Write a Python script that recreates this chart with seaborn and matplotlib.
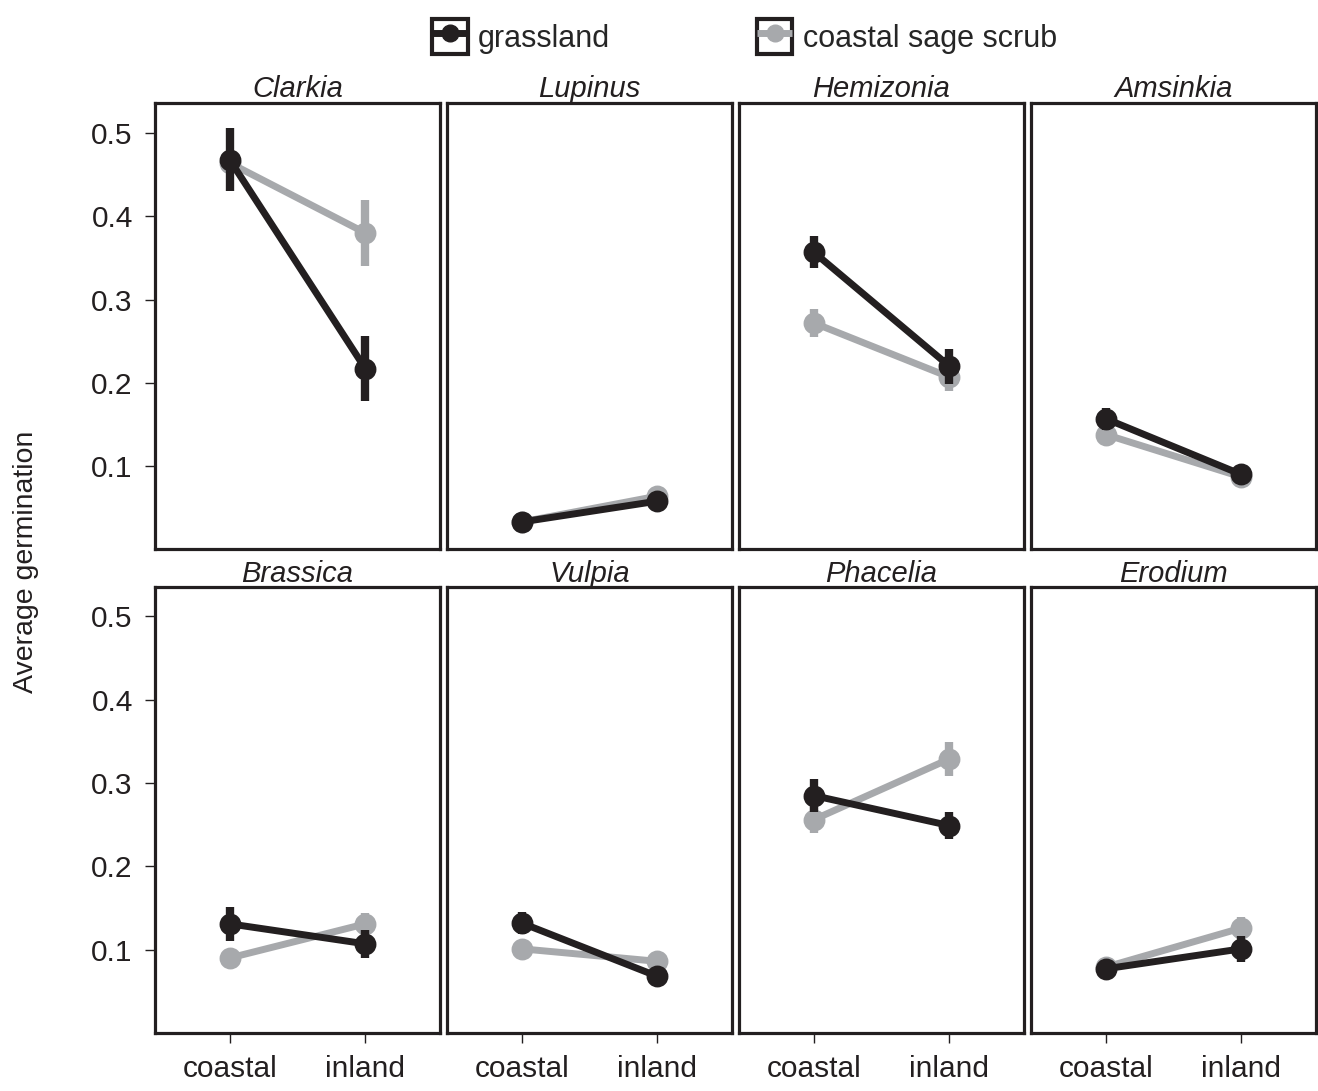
import numpy as np
import pandas as pd
import matplotlib.pyplot as plt
import seaborn as sns
from matplotlib.lines import Line2D
from matplotlib.patches import Rectangle
from matplotlib.legend_handler import HandlerTuple

# -------------------------------------------
# data (mean germination and +/- error)
# -------------------------------------------
species = ["Clarkia", "Lupinus", "Hemizonia", "Amsinkia",
           "Brassica", "Vulpia", "Phacelia", "Erodium"]
sites = ["coastal", "inland"]
habitats = ["grassland", "coastal sage scrub"]

grass_coastal = [0.468, 0.033, 0.357, 0.157, 0.131, 0.132, 0.285, 0.077]
grass_inland = [0.217, 0.058, 0.220, 0.090, 0.107, 0.068, 0.249, 0.101]
grass_coastal_err = [0.038, 0.003, 0.019, 0.013, 0.020, 0.013, 0.020, 0.009]
grass_inland_err = [0.039, 0.004, 0.021, 0.006, 0.017, 0.006, 0.016, 0.016]

css_coastal = [0.464, 0.033, 0.272, 0.138, 0.090, 0.101, 0.256, 0.079]
css_inland = [0.380, 0.064, 0.207, 0.087, 0.131, 0.086, 0.329, 0.126]
css_coastal_err = [0.010, 0.003, 0.017, 0.006, 0.006, 0.006, 0.016, 0.006]
css_inland_err = [0.040, 0.004, 0.017, 0.005, 0.013, 0.006, 0.020, 0.013]

colors = {"grassland": "#231f20", "coastal sage scrub": "#a7a9ac"}
dark = "#231f20"

# long table: three rows per point (low, mean, high) so seaborn can draw the range
rows = []
series = {
    "grassland": (grass_coastal, grass_inland, grass_coastal_err, grass_inland_err),
    "coastal sage scrub": (css_coastal, css_inland, css_coastal_err, css_inland_err),
}
for hab, (mc, mi, ec, ei) in series.items():
    for i, sp in enumerate(species):
        for site, m, e in (("coastal", mc[i], ec[i]), ("inland", mi[i], ei[i])):
            for v in (m - e, m, m + e):
                rows.append({"species": sp, "site": site, "habitat": hab, "germ": v})
df = pd.DataFrame(rows)

# -------------------------------------------
# plot
# -------------------------------------------
sns.set_style("white")
plt.rcParams["font.family"] = ["Liberation Sans", "DejaVu Sans"]

fig, axes = plt.subplots(2, 4, figsize=(13.18, 10.91), dpi=100, sharey=True)
fig.subplots_adjust(left=0.1176, right=0.9985, top=0.9056, bottom=0.0532,
                    wspace=0.0245, hspace=0.083)

for ax, sp in zip(axes.flat, species):
    sub = df[df["species"] == sp]
    # grey first so the black series sits on top
    for hab in ["coastal sage scrub", "grassland"]:
        sns.pointplot(data=sub[sub["habitat"] == hab], x="site", y="germ",
                      order=sites, color=colors[hab],
                      errorbar=lambda v: (v.min(), v.max()),
                      markersize=12, linewidth=5,
                      err_kws={"linewidth": 6, "solid_capstyle": "butt"}, ax=ax)
    ax.set_title(sp, fontsize=21, fontstyle="italic", pad=3, color=dark)
    ax.set_xlim(-0.55, 1.55)
    ax.set_ylim(0, 0.536)
    ax.set_xlabel("")
    ax.set_ylabel("")
    for s in ax.spines.values():
        s.set_visible(True)
        s.set_linewidth(2.3)
        s.set_color(dark)

for ax in axes.flat:
    ax.set_yticks([0.1, 0.2, 0.3, 0.4, 0.5])
    ax.tick_params(axis="both", direction="out", length=7, width=1,
                   color=dark, labelsize=21.5, labelcolor=dark)
    ax.tick_params(axis="x", pad=9)
    ax.tick_params(axis="y", pad=9)

for ax in axes[0]:
    ax.tick_params(axis="x", bottom=False, labelbottom=False)
for ax in axes[:, 1:].flat:
    ax.tick_params(axis="y", left=False, labelleft=False)
for ax in axes[:, 0]:
    ax.tick_params(axis="y", left=True, labelleft=True)
    ax.set_yticklabels(["0.1", "0.2", "0.3", "0.4", "0.5"])
for ax in axes[1]:
    ax.tick_params(axis="x", bottom=True, labelbottom=True)

fig.text(0.02, 0.485, "Average germination", rotation=90, fontsize=20.5,
         ha="center", va="center", color=dark)

# legend with boxed handles
handles = []
for hab in habitats:
    box = Rectangle((0, 0), 1, 1, facecolor="white", edgecolor=dark, linewidth=3)
    ln = Line2D([], [], color=colors[hab], linewidth=5, marker="o", markersize=12,
                solid_capstyle="butt")
    handles.append((box, ln))
fig.legend(handles, habitats, loc="upper center", bbox_to_anchor=(0.565, 1.008),
           ncol=2, frameon=False, fontsize=22, handlelength=1.15, handleheight=1.4,
           handletextpad=0.35, columnspacing=4.8,
           handler_map={tuple: HandlerTuple(ndivide=1, pad=0)})

plt.savefig("out.png", dpi=100)
